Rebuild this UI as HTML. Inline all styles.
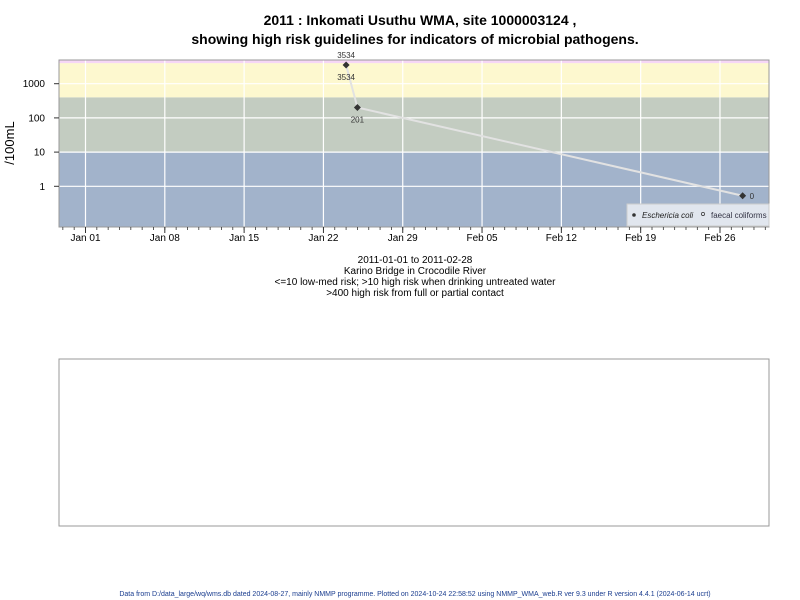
<!DOCTYPE html>
<html><head><meta charset="utf-8"><style>
body{margin:0;background:#fff;}
svg{display:block;font-family:"Liberation Sans",Arial,sans-serif;}
</style></head><body>
<svg id="chart" width="800" height="600" viewBox="0 0 800 600">
<text x="420" y="25" text-anchor="middle" font-size="14" font-weight="bold">2011 : Inkomati Usuthu WMA, site 1000003124 ,</text>
<text x="415" y="44" text-anchor="middle" font-size="14" font-weight="bold">showing high risk guidelines for indicators of microbial pathogens.</text>
<g id="bands"></g>
<g id="grid"></g>
<g id="series"></g>
<rect x="59" y="60" width="710" height="167" fill="none" stroke="#999" stroke-width="1"/>
<g id="yaxis"></g>
<g id="xaxis"></g>
<text x="14" y="143" text-anchor="middle" font-size="13" transform="rotate(-90 14 143)">/100mL</text>
<g>
<rect x="627" y="204" width="142" height="22" fill="#e1e6ee" stroke="#ccc"/>
<circle cx="634" cy="215" r="1.8" fill="#333"/>
<text x="642" y="218" font-size="8" font-style="italic" fill="#222">Eschericia coli</text>
<circle cx="703" cy="214" r="1.6" fill="none" stroke="#333" stroke-width="0.7"/>
<text x="711" y="218" font-size="8" fill="#334">faecal coliforms</text>
</g>
<g font-size="10" text-anchor="middle">
<text x="415" y="263">2011-01-01 to 2011-02-28</text>
<text x="415" y="274">Karino Bridge in Crocodile River</text>
<text x="415" y="285">&lt;=10 low-med risk; &gt;10 high risk when drinking untreated water</text>
<text x="415" y="296">&gt;400 high risk from full or partial contact</text>
</g>
<rect x="59" y="359" width="710" height="167" fill="none" stroke="#999"/>
<text x="415" y="596" text-anchor="middle" font-size="7" fill="#1a3d8f">Data from D:/data_large/wq/wms.db dated 2024-08-27, mainly NMMP programme. Plotted on 2024-10-24 22:58:52 using NMMP_WMA_web.R ver 9.3 under R version 4.4.1 (2024-06-14 ucrt)</text>
</svg>
<script>
const dates = ["2011-01-24","2011-01-25","2011-02-28"];
const values = [3534, 201, 0];
const valueLabels = ["3534","201","0"];
const yTicks = [1, 10, 100, 1000];
const xTickLabels = ["Jan 01","Jan 08","Jan 15","Jan 22","Jan 29","Feb 05","Feb 12","Feb 19","Feb 26"];
const xTickDates = ["2011-01-01","2011-01-08","2011-01-15","2011-01-22","2011-01-29","2011-02-05","2011-02-12","2011-02-19","2011-02-26"];
const bandLimits = [10, 400, 4000];

const NS="http://www.w3.org/2000/svg";
const L=59,R=769,T=60,B=227;
const day0=Date.UTC(2011,0,1);
function dayOf(s){const p=s.split("-");return (Date.UTC(+p[0],+p[1]-1,+p[2])-day0)/86400000;}
function xs(s){return 85.5+11.33*dayOf(s);}
function xd(d){return 85.5+11.33*d;}
function ys(v){return 186.3-34.2*Math.log10(Math.max(v,0.53));}
function mk(tag,attrs,parent,text){const e=document.createElementNS(NS,tag);for(const k in attrs)e.setAttribute(k,attrs[k]);if(text!==undefined)e.textContent=text;parent.appendChild(e);return e;}

const bands=document.getElementById("bands");
let e;
e=mk("rect",{x:L,y:ys(bandLimits[0]),width:R-L,height:B-ys(bandLimits[0]),fill:"#a2b3cb"},bands);


e=mk("rect",{x:L,y:ys(bandLimits[1]),width:R-L,height:ys(bandLimits[0])-ys(bandLimits[1]),fill:"#c3ccc1"},bands);


e=mk("rect",{x:L,y:ys(bandLimits[2]),width:R-L,height:ys(bandLimits[1])-ys(bandLimits[2]),fill:"#fdf8cf"},bands);


e=mk("rect",{x:L,y:T,width:R-L,height:ys(bandLimits[2])-T,fill:"#f6d6f6"},bands);



const grid=document.getElementById("grid"),ya=document.getElementById("yaxis"),xa=document.getElementById("xaxis");
yTicks.forEach(v=>{const y=ys(v);
 e=mk("line",{x1:L,x2:R,y1:y,y2:y,stroke:"#fff","stroke-width":1.2},grid);
 
 
 mk("line",{x1:L-5,x2:L,y1:y,y2:y,stroke:"#333"},ya);
 e=mk("text",{x:L-14,y:y+3.5,"text-anchor":"end","font-size":10},ya,String(v));
 
 
});
xTickDates.forEach((d,i)=>{const x=xs(d);
 e=mk("line",{x1:x,x2:x,y1:T,y2:B,stroke:"#fff","stroke-width":1.2},grid);
 
 
 mk("line",{x1:x,x2:x,y1:B,y2:B+6,stroke:"#333"},xa);
 e=mk("text",{x:x,y:B+14,"text-anchor":"middle","font-size":10},xa,xTickLabels[i]);
 
 
});
for(let d=-2;d<=61;d++){const x=xd(d);if(x<L||x>R)continue;mk("line",{x1:x,x2:x,y1:B,y2:B+3,stroke:"#333","stroke-width":0.8},xa);}

const ser=document.getElementById("series");
e=mk("polyline",{points:dates.map((d,i)=>xs(d)+","+ys(values[i])).join(" "),fill:"none",stroke:"#e2e2e2","stroke-width":2},ser);


dates.forEach((d,i)=>{const x=xs(d),y=ys(values[i]);
 e=mk("path",{d:`M${x} ${y-3.5}L${x+3.5} ${y}L${x} ${y+3.5}L${x-3.5} ${y}Z`,fill:"#333"},ser);
 
 
 if(i===dates.length-1){
  e=mk("text",{x:x+7,y:y+3.5,"font-size":8,fill:"#333"},ser,valueLabels[i]);
 } else {
  e=mk("text",{x:x,y:y+15,"text-anchor":"middle","font-size":8,fill:"#333"},ser,valueLabels[i]);
 }
 
 
 if(i===0){
  e=mk("text",{x:x,y:y-7,"text-anchor":"middle","font-size":8,fill:"#333"},ser,valueLabels[i]);
  
  
 }
});
</script>
</body></html>
